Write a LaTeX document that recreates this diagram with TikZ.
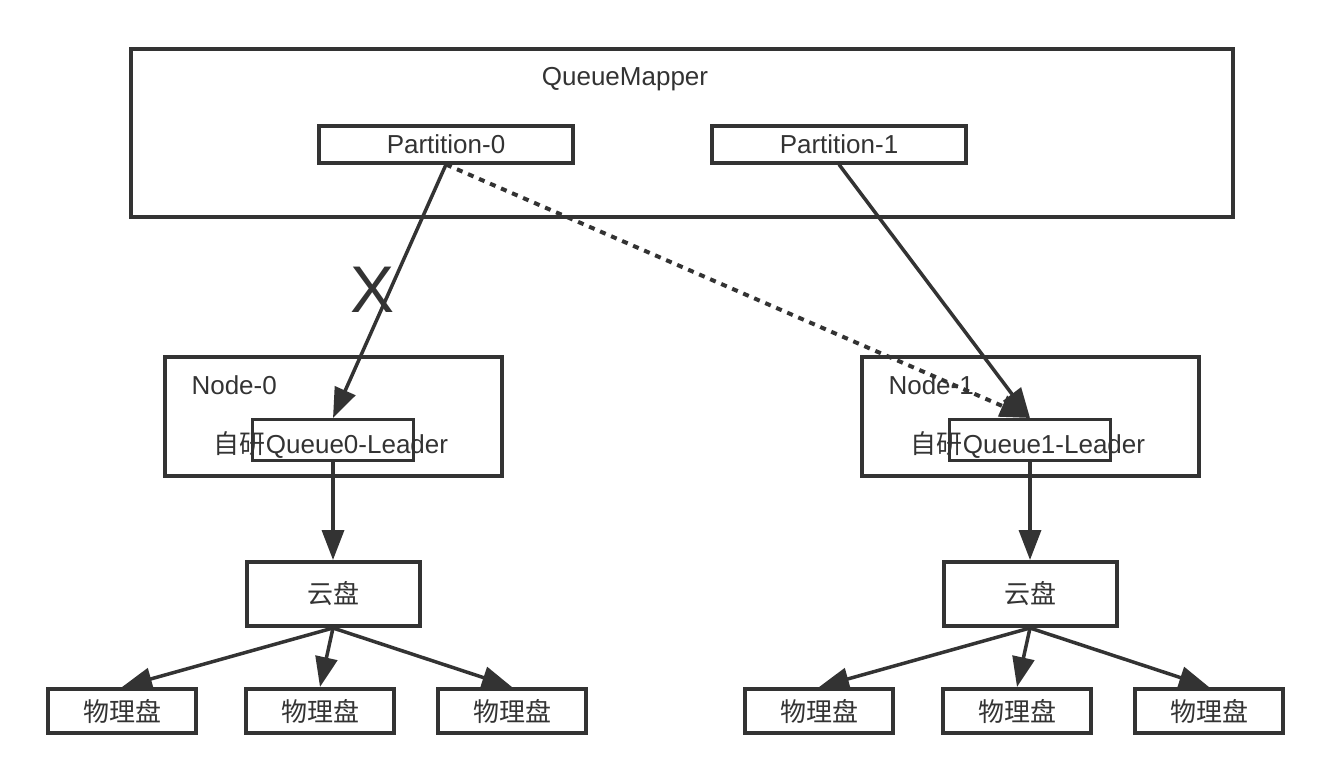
\documentclass[tikz,border=0pt]{standalone}
\usepackage{fontspec}
\setmainfont{Liberation Sans}
\newfontfamily\cjk{Noto Sans CJK SC}
\usetikzlibrary{arrows.meta}
\definecolor{ink}{HTML}{333333}

\begin{document}
\begin{tikzpicture}[x=1pt,y=-1pt,ink,text=ink,
		font=\fontsize{26}{30}\selectfont,
		box/.style={draw,line width=4pt,inner sep=0pt},
		leader/.style={draw,line width=3pt,minimum width=161pt,minimum height=41pt},
		disk/.style={box,minimum width=148pt,minimum height=44pt},
		link/.style={line width=3.5pt,-{Triangle[length=30pt,width=22pt]}}]
	\useasboundingbox (0,0) rectangle (1332,782);
	
	% queue mapper
	\node[box,minimum width=1102pt,minimum height=168pt] (mapper) at (682,133) {};
	\node (mapname) at (625,79) {QueueMapper};
	\node[box,minimum width=254pt,minimum height=37pt] (p0) at (446,144) {Partition-0};
	\node[box,minimum width=254pt,minimum height=37pt] (p1) at (839,144) {Partition-1};
	
	% nodes, cloud disks, physical disks
	\foreach \i/\x in {0/333, 1/1030}{
		\node[box,minimum width=337pt,minimum height=119pt] (node\i) at (\x,416) {};
		\node[anchor=west] (nodename\i) at (\x-145,385) {Node-\i};
		\node[leader] (q\i) at (\x,440) {};
		\node (qname\i) at (\x-2,445) {{\cjk 自研}Queue\i-Leader};
		\node[box,minimum width=173pt,minimum height=64pt] (cloud\i) at (\x,594) {\cjk 云盘};
		\draw[link] (q\i) -- (cloud\i);
		\foreach \d/\dx in {a/-211, b/-13, c/179}{
			\node[disk] (disk\i\d) at (\x+\dx,711) {\cjk 物理盘};
			\draw[link] (cloud\i.south) -- (disk\i\d.north);
		}
	}
	
	% partitions to leaders
	\draw[link] (p0.south) -- (q0.north);
	\node (cross) at (373,290) {\fontsize{66}{70}\selectfont X};
	\draw[link,line width=4pt,dash pattern=on 6pt off 6pt] (p0.south) -- (q1.north);
	\draw[link] (p1.south) -- (q1.north);
\end{tikzpicture}
\end{document}
